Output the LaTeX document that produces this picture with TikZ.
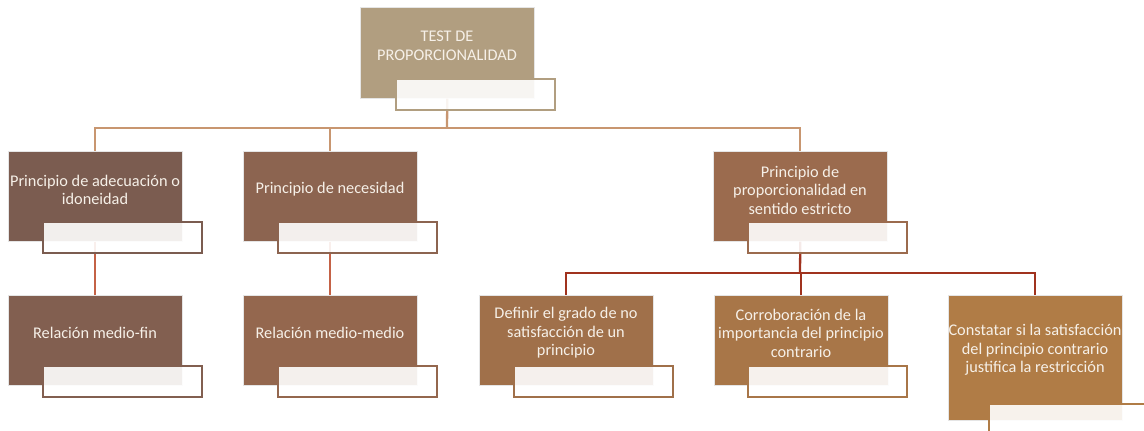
\documentclass[tikz,border=0pt]{standalone}
\usepackage{fontspec}
\setmainfont{Carlito}
\definecolor{cTop}{RGB}{177,158,128}
\definecolor{cAde}{RGB}{123,92,80}
\definecolor{cNec}{RGB}{140,100,80}
\definecolor{cPro}{RGB}{155,107,78}
\definecolor{cFin}{RGB}{130,95,80}
\definecolor{cMed}{RGB}{148,103,78}
\definecolor{cDef}{RGB}{160,112,74}
\definecolor{cCor}{RGB}{168,118,72}
\definecolor{cCon}{RGB}{176,124,70}
\definecolor{lnTop}{RGB}{200,150,112}
\definecolor{lnMid}{RGB}{196,98,70}
\definecolor{lnLow}{RGB}{160,50,30}
\definecolor{txtCream}{RGB}{246,240,232}
\tikzset{
  box/.style={rectangle, anchor=north west, fill=#1, draw=black!10, line width=0.6pt,
    minimum width=174pt, minimum height=90pt, inner sep=0pt},
  tag/.style={rectangle, anchor=north west, fill=white, fill opacity=0.9, draw=#1,
    line width=1.8pt, minimum width=159pt, minimum height=31pt, inner sep=0pt},
  txt/.style={text=txtCream, align=center, font=\fontsize{16.3}{18.5}\selectfont, inner sep=0pt},
  conn/.style={draw=#1, line width=2.3pt}
}
\begin{document}
\begin{tikzpicture}[x=1pt,y=1pt,yscale=-1,xscale=1]
\useasboundingbox (0,0) rectangle (1144,431);

%Boxes
\node[box=cTop, minimum height=91pt] (test) at (360,7) {};
\node[box=cAde] (ade) at (8,151) {};
\node[box=cNec] (nec) at (243,151) {};
\node[box=cPro] (pro) at (713,151) {};
\node[box=cFin] (fin) at (8,295) {};
\node[box=cMed] (med) at (243,295) {};
\node[box=cDef] (def) at (479,295) {};
\node[box=cCor] (cor) at (714,295) {};
\node[box=cCon, minimum height=125pt] (con) at (948,295) {};

%Connectors
\coordinate (j1) at (447,128);
\coordinate (j2) at (800,273);
\draw[conn=lnTop] (test.south) -- (j1);
\draw[conn=lnTop] (j1) -| (ade.north);
\draw[conn=lnTop] (j1) -| (nec.north);
\draw[conn=lnTop] (j1) -| (pro.north);
\draw[conn=lnMid] (ade.south) -- (fin.north);
\draw[conn=lnMid] (nec.south) -- (med.north);
\draw[conn=lnLow] (pro.south) -- (j2);
\draw[conn=lnLow] (j2) -| (def.north);
\draw[conn=lnLow] (j2) -| (cor.north);
\draw[conn=lnLow] (j2) -| (con.north);

%Tags
\node[tag=cTop] (test-tag) at (395,78) {};
\node[tag=cAde] (ade-tag) at (42,221) {};
\node[tag=cNec] (nec-tag) at (277,221) {};
\node[tag=cPro] (pro-tag) at (747,221) {};
\node[tag=cFin] (fin-tag) at (42,365) {};
\node[tag=cMed] (med-tag) at (277,365) {};
\node[tag=cDef] (def-tag) at (513,365) {};
\node[tag=cCor] (cor-tag) at (747,365) {};
\node[tag=cCon] (con-tag) at (988,403) {};

%Texts
\node[txt] (test-txt) at (447,46) {TEST DE\\PROPORCIONALIDAD};
\node[txt] (ade-txt) at (95,190) {Principio de adecuación o\\idoneidad};
\node[txt] (nec-txt) at (330,189) {Principio de necesidad};
\node[txt] (pro-txt) at (800,190) {Principio de\\proporcionalidad en\\sentido estricto};
\node[txt] (fin-txt) at (95,333) {Relación medio-fin};
\node[txt] (med-txt) at (330,333) {Relación medio-medio};
\node[txt] (def-txt) at (566,333) {Definir el grado de no\\satisfacción de un\\principio};
\node[txt] (cor-txt) at (801,333) {Corroboración de la\\importancia del principio\\contrario};
\node[txt] (con-txt) at (1035,350) {Constatar si la satisfacción\\del principio contrario\\justifica la restricción};
\end{tikzpicture}
\end{document}
